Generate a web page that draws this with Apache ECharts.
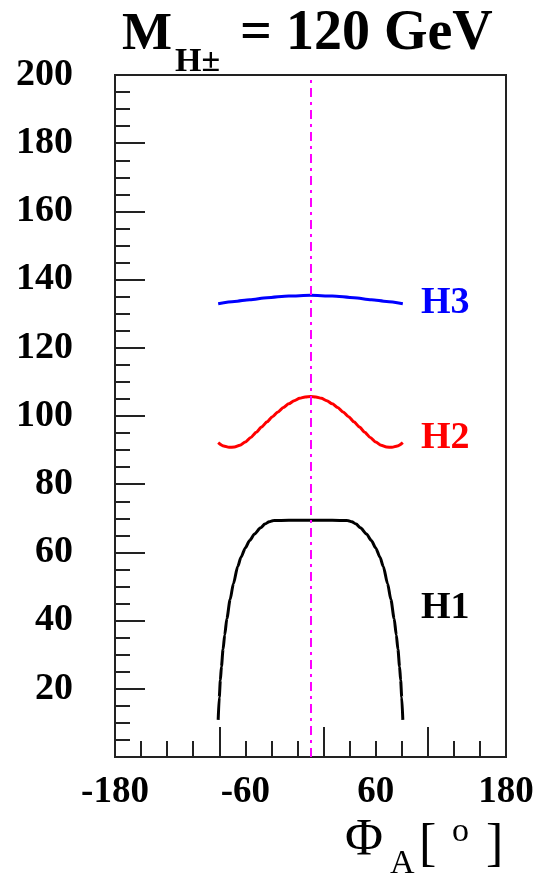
<!DOCTYPE html>
<html>
<head>
<meta charset="utf-8">
<title>Neutral Higgs masses vs Phi_A</title>
<script src="https://cdn.jsdelivr.net/npm/echarts@6/dist/echarts.min.js"></script>
<style>
  html, body { margin: 0; padding: 0; background: #fff; }
  #chart { width: 542px; height: 881px; }
</style>
</head>
<body>
<div id="chart"></div>
<script>
// Phase angle Phi_A in degrees and Higgs masses in GeV (M_H± = 120 GeV)
var h1Phi  = [-85, -84, -83, -82, -80.5, -79, -77, -74, -71, -67, -64, -60, -56, -51.5, -46, -42, -38, -34, -20, 0,
              20, 34, 38, 42, 46, 51.5, 56, 60, 64, 67, 71, 74, 77, 79, 80.5, 82, 83, 84, 85];
var h1Mass = [10.9, 17.5, 22.5, 26.5, 31.6, 35.8, 40.6, 46.2, 50.8, 55.9, 58.6, 61.3, 63.5, 65.4, 67.2, 68.3, 69.0, 69.35, 69.4, 69.4,
              69.4, 69.35, 69.0, 68.3, 67.2, 65.4, 63.5, 61.3, 58.6, 55.9, 50.8, 46.2, 40.6, 35.8, 31.6, 26.5, 22.5, 17.5, 10.9];

var h2Phi  = [-85, -80, -75, -70, -65, -60, -55, -50, -45, -40, -35, -30, -25, -20, -15, -10, -5, 0,
              5, 10, 15, 20, 25, 30, 35, 40, 45, 50, 55, 60, 65, 70, 75, 80, 85];
var h2Mass = [92.2, 91.2, 90.8, 90.9, 91.4, 92.4, 93.7, 95.2, 96.8, 98.3, 99.8, 101.2, 102.5, 103.6, 104.5, 105.2, 105.6, 105.7,
              105.6, 105.2, 104.5, 103.6, 102.5, 101.2, 99.8, 98.3, 96.8, 95.2, 93.7, 92.4, 91.4, 90.9, 90.8, 91.2, 92.2];

var h3Phi  = [-85, -70, -56, -40, -20, 0, 20, 40, 56, 70, 85];
var h3Mass = [132.9, 133.6, 134.1, 134.7, 135.2, 135.4, 135.2, 134.7, 134.1, 133.6, 132.9];

// Axis ticks and labels
var xLabelValues = [-180, -60, 60, 180];
var xMinorTicks  = [-156, -132, -108, -60, -36, -12, 36, 60, 84, 132, 156];
var xMajorTicks  = [-84, 12, 108];
var yLabelValues = [20, 40, 60, 80, 100, 120, 140, 160, 180, 200];

var SERIF = "'Liberation Serif', 'DejaVu Serif', serif";

function pairs(xs, ys) {
  return xs.map(function (x, i) { return [x, ys[i]]; });
}

var chart = echarts.init(document.getElementById('chart'), null, { renderer: 'canvas' });

var tickStyle = { color: '#222', width: 2 };

function txt(text, x, y, size, color, weight) {
  return {
    type: 'text', x: x, y: y, silent: true,
    style: {
      text: text, fill: color || '#000',
      font: (weight || 'bold') + ' ' + size + 'px ' + SERIF,
      align: 'left', verticalAlign: 'middle'
    }
  };
}

function curve(name, xs, ys, color) {
  return {
    name: name, type: 'line', data: pairs(xs, ys),
    showSymbol: false, smooth: 0.25, smoothMonotone: 'x',
    lineStyle: { color: color, width: 3 }
  };
}

var h3Series = curve('H3', h3Phi, h3Mass, '#0000ff');
h3Series.markLine = {
  silent: true, symbol: ['none', 'none'],
  label: { show: false },
  lineStyle: { color: '#ff00ff', width: 2, type: [9, 5, 3, 5] },
  data: [{ xAxis: 0 }]
};

chart.setOption({
  animation: false,
  backgroundColor: '#fff',
  grid: {
    left: 115, right: 36, top: 75, bottom: 124,
    show: true, borderColor: '#222', borderWidth: 2, backgroundColor: 'transparent'
  },
  xAxis: [
    {
      type: 'value', min: -180, max: 180, position: 'bottom',
      axisLine: { show: false, onZero: false },
      splitLine: { show: false },
      axisTick: { show: true, inside: true, length: 16, customValues: xMinorTicks, lineStyle: tickStyle },
      axisLabel: {
        customValues: xLabelValues, margin: 16,
        fontFamily: SERIF, fontWeight: 'bold', fontSize: 37, color: '#000', lineHeight: 38
      }
    },
    {
      type: 'value', min: -180, max: 180, position: 'bottom', offset: 0,
      axisLine: { show: false, onZero: false },
      splitLine: { show: false },
      axisTick: { show: true, inside: true, length: 30, customValues: xMajorTicks, lineStyle: tickStyle },
      axisLabel: { show: false }
    }
  ],
  yAxis: {
    type: 'value', min: 0, max: 200, interval: 20, position: 'left',
    axisLine: { show: false, onZero: false },
    splitLine: { show: false },
    axisTick: { show: true, inside: true, length: 30, lineStyle: tickStyle },
    minorTick: { show: true, splitNumber: 4, length: 15, lineStyle: tickStyle },
    axisLabel: {
      customValues: yLabelValues, margin: 42, padding: [4, 0, 0, 0],
      fontFamily: SERIF, fontWeight: 'bold', fontSize: 38, color: '#000', lineHeight: 38
    }
  },
  series: [
    curve('H1', h1Phi, h1Mass, '#000'),
    curve('H2', h2Phi, h2Mass, '#ff0000'),
    h3Series
  ],
  graphic: [
    // title: M_{H±} = 120 GeV
    txt('M', 122, 35, 53),
    txt('H\u00B1', 175, 62, 34),
    txt('= 120 GeV', 240, 35, 56),
    // curve names
    txt('H3', 421, 303, 38, '#0000ff'),
    txt('H2', 421, 438, 38, '#ff0000'),
    txt('H1', 421, 608, 38, '#000'),
    // x-axis title: Phi_A [ o ]
    txt('\u03A6', 345, 841, 52, '#000', 'normal'),
    txt('A', 390, 864, 34, '#000', 'normal'),
    txt('[', 419, 846, 52, '#000', 'normal'),
    txt('o', 452, 832, 34, '#000', 'normal'),
    txt(']', 486, 846, 52, '#000', 'normal')
  ]
});
</script>
</body>
</html>
